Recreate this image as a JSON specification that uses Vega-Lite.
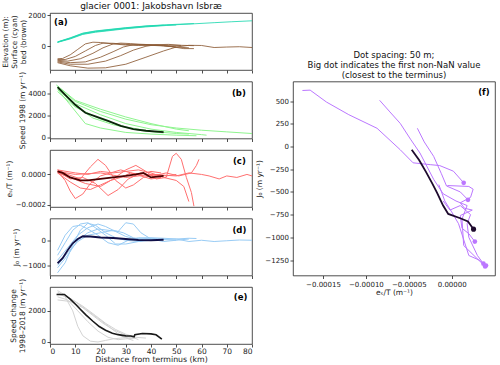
{
  "$schema": "https://vega.github.io/schema/vega-lite/v6.json",
  "background": "white",
  "padding": {"left": 1, "top": 1, "right": 5, "bottom": 0},
  "config": {
    "font": "DejaVu Sans",
    "view": {"stroke": "#222", "strokeWidth": 0.8},
    "axis": {"grid": false, "domain": false, "tickColor": "#222", "tickSize": 3, "tickWidth": 0.8, "labelFontSize": 7, "labelColor": "#222", "labelFont": "DejaVu Sans", "titleFont": "DejaVu Sans", "titleFontSize": 7.5, "titleFontWeight": "normal", "titleColor": "#222", "titlePadding": 1.5, "labelPadding": 1.5, "titleLineHeight": 9},
    "title": {"font": "DejaVu Sans", "fontWeight": "normal", "color": "#111"},
    "text": {"font": "DejaVu Sans"}
  },
  "datasets": {
    "a": [
      {"line":"s1","kind":"surface","km":3,"v":260},{"line":"s1","kind":"surface","km":8,"v":500},{"line":"s1","kind":"surface","km":13,"v":790},{"line":"s1","kind":"surface","km":18,"v":930},{"line":"s1","kind":"surface","km":23,"v":1020},{"line":"s1","kind":"surface","km":30,"v":1150},{"line":"s1","kind":"surface","km":38,"v":1270},{"line":"s1","kind":"surface","km":46,"v":1350},{"line":"s1","kind":"surface","km":55,"v":1420},{"line":"s1","kind":"surface","km":65,"v":1510},{"line":"s1","kind":"surface","km":72,"v":1570},{"line":"s1","kind":"surface","km":80,"v":1630},
      {"line":"s2","kind":"surface","km":3,"v":280},{"line":"s2","kind":"surface","km":8,"v":540},{"line":"s2","kind":"surface","km":13,"v":840},{"line":"s2","kind":"surface","km":18,"v":980},{"line":"s2","kind":"surface","km":23,"v":1070},{"line":"s2","kind":"surface","km":30,"v":1190},{"line":"s2","kind":"surface","km":38,"v":1300},{"line":"s2","kind":"surface","km":46,"v":1375},{"line":"s2","kind":"surface","km":57,"v":1455},
      {"line":"s3","kind":"surface","km":3,"v":250},{"line":"s3","kind":"surface","km":8,"v":470},{"line":"s3","kind":"surface","km":13,"v":760},{"line":"s3","kind":"surface","km":18,"v":900},{"line":"s3","kind":"surface","km":23,"v":990},{"line":"s3","kind":"surface","km":30,"v":1120},{"line":"s3","kind":"surface","km":38,"v":1240},{"line":"s3","kind":"surface","km":46,"v":1330},{"line":"s3","kind":"surface","km":50,"v":1360},
      {"line":"s4","kind":"surface","km":3,"v":270},{"line":"s4","kind":"surface","km":8,"v":520},{"line":"s4","kind":"surface","km":13,"v":820},{"line":"s4","kind":"surface","km":18,"v":960},{"line":"s4","kind":"surface","km":23,"v":1050},{"line":"s4","kind":"surface","km":30,"v":1170},{"line":"s4","kind":"surface","km":38,"v":1290},{"line":"s4","kind":"surface","km":45,"v":1350},
      {"line":"b1","kind":"bed","km":3,"v":-800},{"line":"b1","kind":"bed","km":5,"v":-780},{"line":"b1","kind":"bed","km":8,"v":-550},{"line":"b1","kind":"bed","km":11,"v":-200},{"line":"b1","kind":"bed","km":14,"v":150},{"line":"b1","kind":"bed","km":17,"v":260},{"line":"b1","kind":"bed","km":20,"v":240},{"line":"b1","kind":"bed","km":25,"v":150},{"line":"b1","kind":"bed","km":30,"v":80},{"line":"b1","kind":"bed","km":35,"v":60},{"line":"b1","kind":"bed","km":40,"v":80},{"line":"b1","kind":"bed","km":45,"v":70},{"line":"b1","kind":"bed","km":52,"v":50},
      {"line":"b2","kind":"bed","km":3,"v":-850},{"line":"b2","kind":"bed","km":6,"v":-850},{"line":"b2","kind":"bed","km":10,"v":-650},{"line":"b2","kind":"bed","km":14,"v":-300},{"line":"b2","kind":"bed","km":18,"v":50},{"line":"b2","kind":"bed","km":21,"v":200},{"line":"b2","kind":"bed","km":25,"v":190},{"line":"b2","kind":"bed","km":30,"v":120},{"line":"b2","kind":"bed","km":35,"v":70},{"line":"b2","kind":"bed","km":40,"v":60},{"line":"b2","kind":"bed","km":45,"v":20},{"line":"b2","kind":"bed","km":50,"v":-50},{"line":"b2","kind":"bed","km":55,"v":-100},
      {"line":"b3","kind":"bed","km":3,"v":-900},{"line":"b3","kind":"bed","km":7,"v":-950},{"line":"b3","kind":"bed","km":12,"v":-800},{"line":"b3","kind":"bed","km":17,"v":-450},{"line":"b3","kind":"bed","km":21,"v":-100},{"line":"b3","kind":"bed","km":25,"v":150},{"line":"b3","kind":"bed","km":28,"v":200},{"line":"b3","kind":"bed","km":32,"v":170},{"line":"b3","kind":"bed","km":38,"v":100},{"line":"b3","kind":"bed","km":45,"v":50},{"line":"b3","kind":"bed","km":50,"v":-50},
      {"line":"b4","kind":"bed","km":3,"v":-950},{"line":"b4","kind":"bed","km":8,"v":-1050},{"line":"b4","kind":"bed","km":14,"v":-1000},{"line":"b4","kind":"bed","km":20,"v":-700},{"line":"b4","kind":"bed","km":25,"v":-350},{"line":"b4","kind":"bed","km":29,"v":-50},{"line":"b4","kind":"bed","km":33,"v":100},{"line":"b4","kind":"bed","km":37,"v":120},{"line":"b4","kind":"bed","km":42,"v":80},{"line":"b4","kind":"bed","km":48,"v":-20},{"line":"b4","kind":"bed","km":53,"v":-150},{"line":"b4","kind":"bed","km":57,"v":-150},
      {"line":"b5","kind":"bed","km":3,"v":-1000},{"line":"b5","kind":"bed","km":8,"v":-1150},{"line":"b5","kind":"bed","km":15,"v":-1150},{"line":"b5","kind":"bed","km":22,"v":-950},{"line":"b5","kind":"bed","km":28,"v":-600},{"line":"b5","kind":"bed","km":33,"v":-250},{"line":"b5","kind":"bed","km":38,"v":0},{"line":"b5","kind":"bed","km":42,"v":100},{"line":"b5","kind":"bed","km":47,"v":120},{"line":"b5","kind":"bed","km":52,"v":60},{"line":"b5","kind":"bed","km":57,"v":40},
      {"line":"b6","kind":"bed","km":3,"v":-1050},{"line":"b6","kind":"bed","km":8,"v":-1250},{"line":"b6","kind":"bed","km":15,"v":-1400},{"line":"b6","kind":"bed","km":22,"v":-1380},{"line":"b6","kind":"bed","km":30,"v":-1150},{"line":"b6","kind":"bed","km":38,"v":-700},{"line":"b6","kind":"bed","km":45,"v":-300},{"line":"b6","kind":"bed","km":50,"v":-50},{"line":"b6","kind":"bed","km":55,"v":60},{"line":"b6","kind":"bed","km":60,"v":50},{"line":"b6","kind":"bed","km":65,"v":-80},{"line":"b6","kind":"bed","km":70,"v":-50},{"line":"b6","kind":"bed","km":75,"v":-30},{"line":"b6","kind":"bed","km":80,"v":-80}
    ],
    "b": [
      {"line":"g1","km":2.5,"v":4800},{"line":"g1","km":10,"v":3300},{"line":"g1","km":20,"v":2400},{"line":"g1","km":30,"v":1700},{"line":"g1","km":40,"v":1200},{"line":"g1","km":50,"v":900},{"line":"g1","km":60,"v":700},{"line":"g1","km":70,"v":550},{"line":"g1","km":80,"v":400},
      {"line":"g2","km":3,"v":4600},{"line":"g2","km":10,"v":3100},{"line":"g2","km":20,"v":2100},{"line":"g2","km":30,"v":1300},{"line":"g2","km":40,"v":800},{"line":"g2","km":50,"v":500},{"line":"g2","km":60,"v":300},{"line":"g2","km":62,"v":250},
      {"line":"g3","km":3,"v":4400},{"line":"g3","km":8,"v":3000},{"line":"g3","km":14,"v":1300},{"line":"g3","km":20,"v":900},{"line":"g3","km":30,"v":500},{"line":"g3","km":40,"v":350},{"line":"g3","km":50,"v":250},{"line":"g3","km":58,"v":200},
      {"line":"g4","km":3,"v":4200},{"line":"g4","km":10,"v":2800},{"line":"g4","km":20,"v":1700},{"line":"g4","km":30,"v":1000},{"line":"g4","km":40,"v":600},{"line":"g4","km":50,"v":400},{"line":"g4","km":55,"v":350},
      {"line":"g5","km":3,"v":4700},{"line":"g5","km":10,"v":3400},{"line":"g5","km":20,"v":2600},{"line":"g5","km":30,"v":1900},{"line":"g5","km":40,"v":1300},{"line":"g5","km":50,"v":800},{"line":"g5","km":55,"v":650},
      {"line":"g6","km":3,"v":4500},{"line":"g6","km":10,"v":2900},{"line":"g6","km":17,"v":1800},{"line":"g6","km":25,"v":1200},{"line":"g6","km":35,"v":700},{"line":"g6","km":45,"v":450}
    ],
    "bm": [
      {"km":3,"v":4600},{"km":6,"v":3900},{"km":10,"v":3000},{"km":14,"v":2280},{"km":18,"v":1950},{"km":23,"v":1550},{"km":28,"v":1100},{"km":33,"v":800},{"km":38,"v":650},{"km":45,"v":530}
    ],
    "c": [
      {"line":"r1","km":3,"v":2e-5},{"line":"r1","km":6,"v":-4e-5},{"line":"r1","km":8,"v":-1.1e-4},{"line":"r1","km":10,"v":-1.6e-4},{"line":"r1","km":13,"v":-1.3e-4},{"line":"r1","km":16,"v":-6e-5},{"line":"r1","km":20,"v":-1e-5},{"line":"r1","km":24,"v":1e-5},{"line":"r1","km":28,"v":3e-5},{"line":"r1","km":32,"v":1e-5},{"line":"r1","km":36,"v":0},{"line":"r1","km":40,"v":2e-5},{"line":"r1","km":44,"v":1e-5},
      {"line":"r2","km":3,"v":3e-5},{"line":"r2","km":7,"v":0},{"line":"r2","km":12,"v":-3e-5},{"line":"r2","km":16,"v":5e-5},{"line":"r2","km":19,"v":1e-4},{"line":"r2","km":22,"v":6e-5},{"line":"r2","km":26,"v":-4e-5},{"line":"r2","km":30,"v":-9e-5},{"line":"r2","km":33,"v":-7e-5},{"line":"r2","km":37,"v":-2e-5},{"line":"r2","km":42,"v":0},{"line":"r2","km":46,"v":-1e-5},{"line":"r2","km":50,"v":0},
      {"line":"r3","km":3,"v":1e-5},{"line":"r3","km":8,"v":-2e-5},{"line":"r3","km":14,"v":-6e-5},{"line":"r3","km":20,"v":-8e-5},{"line":"r3","km":25,"v":-3e-5},{"line":"r3","km":30,"v":3e-5},{"line":"r3","km":34,"v":6e-5},{"line":"r3","km":38,"v":2e-5},{"line":"r3","km":42,"v":-3e-5},{"line":"r3","km":46,"v":-2e-5},{"line":"r3","km":48.5,"v":1.2e-4},{"line":"r3","km":50,"v":1.4e-4},{"line":"r3","km":52,"v":1e-4},{"line":"r3","km":54,"v":-2e-5},{"line":"r3","km":56,"v":-1.2e-4},{"line":"r3","km":57,"v":-2.1e-4},
      {"line":"r4","km":3,"v":2e-5},{"line":"r4","km":8,"v":-3e-5},{"line":"r4","km":13,"v":-2e-5},{"line":"r4","km":18,"v":-6e-5},{"line":"r4","km":23,"v":-1.4e-4},{"line":"r4","km":27,"v":-1e-4},{"line":"r4","km":31,"v":-3e-5},{"line":"r4","km":36,"v":1e-5},{"line":"r4","km":41,"v":-1e-5},{"line":"r4","km":46,"v":1e-5},{"line":"r4","km":51,"v":-1e-5},{"line":"r4","km":56,"v":1e-5},{"line":"r4","km":58,"v":6e-5},{"line":"r4","km":59,"v":1e-4},
      {"line":"r5","km":3,"v":3e-5},{"line":"r5","km":10,"v":1e-5},{"line":"r5","km":15,"v":0},{"line":"r5","km":20,"v":2e-5},{"line":"r5","km":25,"v":1e-5},{"line":"r5","km":30,"v":2e-5},{"line":"r5","km":35,"v":3e-5},{"line":"r5","km":40,"v":1e-5},{"line":"r5","km":45,"v":-2e-5},{"line":"r5","km":50,"v":-4e-5},{"line":"r5","km":53,"v":-8e-5},{"line":"r5","km":55,"v":-1.8e-4},
      {"line":"r6","km":3,"v":2e-5},{"line":"r6","km":10,"v":0},{"line":"r6","km":20,"v":1e-5},{"line":"r6","km":30,"v":-2e-5},{"line":"r6","km":40,"v":0},{"line":"r6","km":50,"v":-1e-5},{"line":"r6","km":55,"v":1e-5},{"line":"r6","km":60,"v":0},{"line":"r6","km":63,"v":-1e-5},{"line":"r6","km":67,"v":-3e-5},{"line":"r6","km":70,"v":-1e-5},{"line":"r6","km":74,"v":-2e-5},{"line":"r6","km":78,"v":0},{"line":"r6","km":80,"v":-1e-5},
      {"line":"r7","km":3,"v":1e-5},{"line":"r7","km":8,"v":-5e-5},{"line":"r7","km":12,"v":-9e-5},{"line":"r7","km":16,"v":-1e-4},{"line":"r7","km":20,"v":-7e-5},{"line":"r7","km":24,"v":-4e-5},{"line":"r7","km":28,"v":-2e-5},{"line":"r7","km":32,"v":1e-5},{"line":"r7","km":36,"v":-1e-5},{"line":"r7","km":40,"v":-3e-5},{"line":"r7","km":44,"v":-2e-5}
    ],
    "cm": [
      {"km":3,"v":2e-5},{"km":5,"v":1e-5},{"km":8,"v":-2e-5},{"km":12,"v":-4e-5},{"km":15,"v":-4e-5},{"km":20,"v":-3e-5},{"km":25,"v":-2e-5},{"km":30,"v":-1e-5},{"km":34,"v":0},{"km":37,"v":1e-5},{"km":40,"v":-2e-5},{"km":45,"v":-1e-5}
    ],
    "d": [
      {"line":"l1","km":3,"v":-1300},{"line":"l1","km":6,"v":-900},{"line":"l1","km":9,"v":-200},{"line":"l1","km":12,"v":400},{"line":"l1","km":15,"v":680},{"line":"l1","km":18,"v":600},{"line":"l1","km":22,"v":300},{"line":"l1","km":26,"v":100},{"line":"l1","km":30,"v":0},{"line":"l1","km":35,"v":-50},{"line":"l1","km":40,"v":0},{"line":"l1","km":45,"v":50},
      {"line":"l2","km":3,"v":-600},{"line":"l2","km":6,"v":-100},{"line":"l2","km":9,"v":400},{"line":"l2","km":12,"v":650},{"line":"l2","km":15,"v":700},{"line":"l2","km":18,"v":500},{"line":"l2","km":22,"v":200},{"line":"l2","km":26,"v":-150},{"line":"l2","km":30,"v":-150},{"line":"l2","km":35,"v":-50},{"line":"l2","km":40,"v":50},
      {"line":"l3","km":3,"v":-1100},{"line":"l3","km":7,"v":-600},{"line":"l3","km":11,"v":0},{"line":"l3","km":15,"v":300},{"line":"l3","km":19,"v":450},{"line":"l3","km":23,"v":400},{"line":"l3","km":27,"v":350},{"line":"l3","km":30,"v":700},{"line":"l3","km":33,"v":650},{"line":"l3","km":36,"v":300},{"line":"l3","km":40,"v":50},{"line":"l3","km":45,"v":-50},{"line":"l3","km":50,"v":0},{"line":"l3","km":55,"v":50},
      {"line":"l4","km":3,"v":-400},{"line":"l4","km":6,"v":200},{"line":"l4","km":9,"v":550},{"line":"l4","km":12,"v":600},{"line":"l4","km":15,"v":450},{"line":"l4","km":19,"v":200},{"line":"l4","km":23,"v":-100},{"line":"l4","km":27,"v":-200},{"line":"l4","km":31,"v":0},{"line":"l4","km":35,"v":100},{"line":"l4","km":40,"v":100},{"line":"l4","km":45,"v":80},{"line":"l4","km":50,"v":50},{"line":"l4","km":55,"v":80},{"line":"l4","km":58,"v":70},
      {"line":"l5","km":3,"v":-800},{"line":"l5","km":7,"v":-300},{"line":"l5","km":11,"v":200},{"line":"l5","km":15,"v":500},{"line":"l5","km":19,"v":650},{"line":"l5","km":22,"v":550},{"line":"l5","km":26,"v":350},{"line":"l5","km":30,"v":150},{"line":"l5","km":34,"v":50},{"line":"l5","km":40,"v":80},{"line":"l5","km":45,"v":40},{"line":"l5","km":50,"v":50},{"line":"l5","km":55,"v":-50},{"line":"l5","km":60,"v":0},{"line":"l5","km":65,"v":-50},{"line":"l5","km":70,"v":-20},{"line":"l5","km":75,"v":10},{"line":"l5","km":80,"v":0},
      {"line":"l6","km":3,"v":-1000},{"line":"l6","km":7,"v":-500},{"line":"l6","km":11,"v":-50},{"line":"l6","km":15,"v":200},{"line":"l6","km":20,"v":300},{"line":"l6","km":25,"v":400},{"line":"l6","km":29,"v":300},{"line":"l6","km":33,"v":100},{"line":"l6","km":38,"v":0},{"line":"l6","km":45,"v":30},{"line":"l6","km":50,"v":0}
    ],
    "dm": [
      {"km":3,"v":-920},{"km":5,"v":-720},{"km":7,"v":-400},{"km":9,"v":-120},{"km":11,"v":50},{"km":13,"v":160},{"km":16,"v":150},{"km":20,"v":110},{"km":25,"v":90},{"km":30,"v":50},{"km":35,"v":10},{"km":40,"v":0},{"km":45,"v":20}
    ],
    "e": [
      {"line":"e1","km":3,"v":3200},{"line":"e1","km":6,"v":2900},{"line":"e1","km":9,"v":2000},{"line":"e1","km":11,"v":1000},{"line":"e1","km":13,"v":400},{"line":"e1","km":16,"v":50},{"line":"e1","km":19,"v":0},{"line":"e1","km":22,"v":100},{"line":"e1","km":25,"v":200},{"line":"e1","km":28,"v":250},{"line":"e1","km":31,"v":300},{"line":"e1","km":33,"v":300},
      {"line":"e2","km":3,"v":2900},{"line":"e2","km":7,"v":2700},{"line":"e2","km":11,"v":2000},{"line":"e2","km":15,"v":1300},{"line":"e2","km":19,"v":700},{"line":"e2","km":23,"v":300},{"line":"e2","km":27,"v":150},{"line":"e2","km":30,"v":200},{"line":"e2","km":34,"v":250},
      {"line":"e3","km":3,"v":3100},{"line":"e3","km":8,"v":2800},{"line":"e3","km":13,"v":2300},{"line":"e3","km":18,"v":1700},{"line":"e3","km":22,"v":1200},{"line":"e3","km":26,"v":800},{"line":"e3","km":30,"v":500},{"line":"e3","km":34,"v":300},{"line":"e3","km":38,"v":250},
      {"line":"e4","km":3,"v":2700},{"line":"e4","km":8,"v":2600},{"line":"e4","km":13,"v":2200},{"line":"e4","km":17,"v":1700},{"line":"e4","km":21,"v":1200},{"line":"e4","km":25,"v":800},{"line":"e4","km":29,"v":500},{"line":"e4","km":32,"v":350},{"line":"e4","km":35,"v":150},
      {"line":"e5","km":3,"v":3300},{"line":"e5","km":9,"v":2700},{"line":"e5","km":15,"v":2000},{"line":"e5","km":20,"v":1400},{"line":"e5","km":24,"v":900},{"line":"e5","km":28,"v":400},{"line":"e5","km":31,"v":200},{"line":"e5","km":33,"v":100}
    ],
    "em": [
      {"km":2.6,"v":3050},{"km":5.7,"v":3050},{"km":8,"v":2750},{"km":10.3,"v":2390},{"km":12,"v":2100},{"km":14.2,"v":1740},{"km":17,"v":1330},{"km":19.5,"v":990},{"km":22,"v":750},{"km":24.7,"v":560},{"km":27,"v":470},{"km":30,"v":390},{"km":32,"v":380},{"km":33.3,"v":330},{"km":33.6,"v":470},{"km":36.6,"v":540},{"km":40,"v":520},{"km":42,"v":460},{"km":44.3,"v":180}
    ],
    "f": [
      {"line":"p1","d":50,"cx":-1.74e-4,"j":616},{"line":"p1","d":45,"cx":-1.65e-4,"j":620},{"line":"p1","d":40,"cx":-1.46e-4,"j":489},{"line":"p1","d":35,"cx":-1.2e-4,"j":350},{"line":"p1","d":30,"cx":-8.7e-5,"j":200},{"line":"p1","d":25,"cx":-6.0e-5,"j":-36},{"line":"p1","d":20,"cx":-4.5e-5,"j":-180},{"line":"p1","d":15,"cx":-2.5e-5,"j":-200},{"line":"p1","d":10,"cx":-1.4e-5,"j":-210},{"line":"p1","d":6,"cx":2e-6,"j":-272},{"line":"p1","d":3,"cx":1.4e-5,"j":-400},
      {"line":"p2","d":50,"cx":-8.4e-5,"j":508},{"line":"p2","d":45,"cx":-7.2e-5,"j":380},{"line":"p2","d":40,"cx":-6.0e-5,"j":254},{"line":"p2","d":35,"cx":-4.8e-5,"j":80},{"line":"p2","d":30,"cx":-3.7e-5,"j":-72},{"line":"p2","d":25,"cx":-2.1e-5,"j":-362},{"line":"p2","d":20,"cx":-1e-5,"j":-520},{"line":"p2","d":16,"cx":5e-6,"j":-600},{"line":"p2","d":12,"cx":1.8e-5,"j":-650},{"line":"p2","d":8,"cx":1.2e-5,"j":-800},{"line":"p2","d":5,"cx":1.4e-5,"j":-1090},{"line":"p2","d":3,"cx":3.9e-5,"j":-1320},
      {"line":"p3","d":40,"cx":-4.0e-5,"j":200},{"line":"p3","d":35,"cx":-3.2e-5,"j":50},{"line":"p3","d":30,"cx":-2.1e-5,"j":-109},{"line":"p3","d":25,"cx":-1.2e-5,"j":-300},{"line":"p3","d":20,"cx":-6e-6,"j":-435},{"line":"p3","d":10,"cx":1e-5,"j":-500},{"line":"p3","d":3,"cx":1.9e-5,"j":-587},
      {"line":"p4","d":30,"cx":-1.5e-5,"j":-420},{"line":"p4","d":25,"cx":-8e-6,"j":-600},{"line":"p4","d":20,"cx":0,"j":-720},{"line":"p4","d":15,"cx":8e-6,"j":-850},{"line":"p4","d":10,"cx":2e-5,"j":-1200},{"line":"p4","d":6,"cx":3.2e-5,"j":-1250},{"line":"p4","d":3,"cx":4.0e-5,"j":-1310},
      {"line":"p5","d":35,"cx":-5e-6,"j":-430},{"line":"p5","d":30,"cx":2e-5,"j":-440},{"line":"p5","d":27,"cx":2.5e-5,"j":-470},{"line":"p5","d":24,"cx":2.2e-5,"j":-560},{"line":"p5","d":21,"cx":1e-5,"j":-620},{"line":"p5","d":18,"cx":1.5e-5,"j":-680},{"line":"p5","d":15,"cx":2.4e-5,"j":-700},{"line":"p5","d":12,"cx":1e-5,"j":-760},{"line":"p5","d":9,"cx":1.2e-5,"j":-900},{"line":"p5","d":6,"cx":2e-5,"j":-960},{"line":"p5","d":3,"cx":2.7e-5,"j":-1047},
      {"line":"p6","d":30,"cx":-1e-5,"j":-600},{"line":"p6","d":25,"cx":-2e-6,"j":-700},{"line":"p6","d":20,"cx":1e-5,"j":-650},{"line":"p6","d":16,"cx":2.2e-5,"j":-750},{"line":"p6","d":12,"cx":1.8e-5,"j":-850},{"line":"p6","d":8,"cx":2e-5,"j":-1000},{"line":"p6","d":5,"cx":3e-5,"j":-1200},{"line":"p6","d":3,"cx":3.7e-5,"j":-1290}
    ],
    "fm": [
      {"d":45,"cx":-4.66e-5,"j":-36},{"d":40,"cx":-3.8e-5,"j":-150},{"d":35,"cx":-3.0e-5,"j":-280},{"d":30,"cx":-2.3e-5,"j":-400},{"d":25,"cx":-1.7e-5,"j":-510},{"d":20,"cx":-1.0e-5,"j":-650},{"d":15,"cx":-4e-6,"j":-742},{"d":10,"cx":1e-5,"j":-790},{"d":6,"cx":1.9e-5,"j":-826},{"d":3,"cx":2.55e-5,"j":-910}
    ],
    "fdots": [
      {"line":"p1","cx":1.4e-5,"j":-400},{"line":"p2","cx":3.9e-5,"j":-1320},{"line":"p3","cx":1.9e-5,"j":-587},{"line":"p4","cx":4.0e-5,"j":-1310},{"line":"p5","cx":2.7e-5,"j":-1047},{"line":"p6","cx":3.7e-5,"j":-1290}
    ]
  },
  "spacing": 0,
  "hconcat": [
    {
      "bounds": "flush",
      "spacing": 11.5,
      "vconcat": [
        {
          "width": 202, "height": 57,
          "title": {"text": "glacier 0001: Jakobshavn Isbræ", "fontSize": 9, "offset": 0.5},
          "encoding": {
            "x": {"field": "km", "type": "quantitative", "scale": {"domain": [0, 80], "nice": false}, "axis": {"values": [0,10,20,30,40,50,60,70,80], "labels": false, "title": null}},
            "y": {"field": "v", "type": "quantitative", "scale": {"domain": [-1520, 2130], "nice": false, "zero": false}, "axis": {"values": [0, 2000], "format": "d", "title": ["Elevation (m):", "Surface (cyan)", "bed (brown)"], "titlePadding": 0.5, "titleFontSize": 7.3, "titleLineHeight": 8.8}}
          },
          "layer": [
            {"data": {"name": "a"}, "mark": {"type": "line", "strokeWidth": 1, "opacity": 0.85}, "encoding": {"detail": {"field": "line"}, "color": {"field": "kind", "type": "nominal", "scale": {"domain": ["surface", "bed"], "range": ["#20d8b0", "#8c5a35"]}, "legend": null}}},
            {"data": {"values": [{"km": 4.3, "v": 1560, "label": "(a)"}]}, "mark": {"type": "text", "fontWeight": "bold", "fontSize": 8.5}, "encoding": {"text": {"field": "label"}}}
          ]
        },
        {
          "width": 202, "height": 57,
          "encoding": {
            "x": {"field": "km", "type": "quantitative", "scale": {"domain": [0, 80], "nice": false}, "axis": {"values": [0,10,20,30,40,50,60,70,80], "labels": false, "title": null}},
            "y": {"field": "v", "type": "quantitative", "scale": {"domain": [-50, 5110], "nice": false, "zero": false}, "axis": {"values": [0, 2000, 4000], "format": "d", "title": "Speed 1998 (m yr⁻¹)"}}
          },
          "layer": [
            {"data": {"name": "b"}, "mark": {"type": "line", "strokeWidth": 1, "color": "#8ff58f"}, "encoding": {"detail": {"field": "line"}}},
            {"data": {"name": "bm"}, "mark": {"type": "line", "strokeWidth": 1.8, "color": "#0b240b"}},
            {"data": {"values": [{"km": 74.8, "v": 4035, "label": "(b)"}]}, "mark": {"type": "text", "fontWeight": "bold", "fontSize": 8.5}, "encoding": {"text": {"field": "label"}}}
          ]
        },
        {
          "width": 202, "height": 57,
          "encoding": {
            "x": {"field": "km", "type": "quantitative", "scale": {"domain": [0, 80], "nice": false}, "axis": {"values": [0,10,20,30,40,50,60,70,80], "labels": false, "title": null}},
            "y": {"field": "v", "type": "quantitative", "scale": {"domain": [-0.000216, 0.000162], "nice": false, "zero": false}, "axis": {"values": [-0.0002, 0], "format": ".4f", "title": "eₛ/T (m⁻¹)"}}
          },
          "layer": [
            {"data": {"name": "c"}, "mark": {"type": "line", "strokeWidth": 1, "color": "#ff7070", "clip": true}, "encoding": {"detail": {"field": "line"}}},
            {"data": {"name": "cm"}, "mark": {"type": "line", "strokeWidth": 1.8, "color": "#4a0000"}},
            {"data": {"values": [{"km": 75, "v": 0.000089, "label": "(c)"}]}, "mark": {"type": "text", "fontWeight": "bold", "fontSize": 8.5}, "encoding": {"text": {"field": "label"}}}
          ]
        },
        {
          "width": 202, "height": 57,
          "encoding": {
            "x": {"field": "km", "type": "quantitative", "scale": {"domain": [0, 80], "nice": false}, "axis": {"values": [0,10,20,30,40,50,60,70,80], "labels": false, "title": null}},
            "y": {"field": "v", "type": "quantitative", "scale": {"domain": [-1410, 870], "nice": false, "zero": false}, "axis": {"values": [-1000, 0], "format": "d", "title": "J₀ (m yr⁻¹)"}}
          },
          "layer": [
            {"data": {"name": "d"}, "mark": {"type": "line", "strokeWidth": 1, "color": "#99ccf5"}, "encoding": {"detail": {"field": "line"}}},
            {"data": {"name": "dm"}, "mark": {"type": "line", "strokeWidth": 1.8, "color": "#101048"}},
            {"data": {"values": [{"km": 75, "v": 395, "label": "(d)"}]}, "mark": {"type": "text", "fontWeight": "bold", "fontSize": 8.5}, "encoding": {"text": {"field": "label"}}}
          ]
        },
        {
          "width": 202, "height": 57,
          "encoding": {
            "x": {"field": "km", "type": "quantitative", "scale": {"domain": [0, 80], "nice": false}, "axis": {"values": [0,10,20,30,40,50,60,70,80], "title": "Distance from terminus (km)", "titleFontSize": 7.8, "labelFontSize": 7.5, "labelPadding": 0.5, "titlePadding": 0}},
            "y": {"field": "v", "type": "quantitative", "scale": {"domain": [-130, 3530], "nice": false, "zero": false}, "axis": {"values": [0, 2000], "format": "d", "title": ["Speed change", "1998–2018 (m yr⁻¹)"]}}
          },
          "layer": [
            {"data": {"name": "e"}, "mark": {"type": "line", "strokeWidth": 1, "color": "#d3d3d3"}, "encoding": {"detail": {"field": "line"}}},
            {"data": {"name": "em"}, "mark": {"type": "line", "strokeWidth": 1.6, "color": "#1a1a1a"}},
            {"data": {"values": [{"km": 75.5, "v": 2884, "label": "(e)"}]}, "mark": {"type": "text", "fontWeight": "bold", "fontSize": 8.5}, "encoding": {"text": {"field": "label"}}}
          ]
        }
      ]
    },
    {
      "bounds": "flush",
      "spacing": 11.5,
      "vconcat": [
        {
          "width": 202, "height": 57,
          "view": {"stroke": null},
          "data": {"values": [{"k": 0}]},
          "mark": {"type": "point", "opacity": 0},
          "encoding": {}
        },
        {
          "width": 202, "height": 194,
          "title": {"text": ["Dot spacing: 50 m;", "Big dot indicates the first non-NaN value", "(closest to the terminus)"], "fontSize": 8.5, "lineHeight": 10, "offset": 2},
          "encoding": {
            "x": {"field": "cx", "type": "quantitative", "scale": {"domain": [-0.000185, 0.0000505], "nice": false, "zero": false}, "axis": {"values": [-0.00015, -0.0001, -0.00005, 0], "format": ".5f", "title": "eₛ/T (m⁻¹)"}},
            "y": {"field": "j", "type": "quantitative", "scale": {"domain": [-1420, 715], "nice": false, "zero": false}, "axis": {"values": [-1250, -1000, -750, -500, -250, 0, 250, 500], "format": "d", "title": "J₀ (m yr⁻¹)", "titlePadding": 1}}
          },
          "layer": [
            {"data": {"name": "f"}, "mark": {"type": "line", "strokeWidth": 1, "color": "#bb77ff"}, "encoding": {"detail": {"field": "line"}, "order": {"field": "d", "sort": "descending"}}},
            {"data": {"name": "fdots"}, "mark": {"type": "circle", "size": 22, "color": "#bb77ff", "opacity": 1}},
            {"data": {"name": "fm"}, "mark": {"type": "line", "strokeWidth": 1.8, "color": "#1e0a2e"}, "encoding": {"order": {"field": "d", "sort": "descending"}}},
            {"data": {"values": [{"cx": 0.0000255, "j": -910}]}, "mark": {"type": "circle", "size": 26, "color": "#1e0a2e", "opacity": 1}},
            {"data": {"values": [{"cx": 0.0000376, "j": 598, "label": "(f)"}]}, "mark": {"type": "text", "fontWeight": "bold", "fontSize": 8.5}, "encoding": {"text": {"field": "label"}}}
          ]
        }
      ]
    }
  ]
}
